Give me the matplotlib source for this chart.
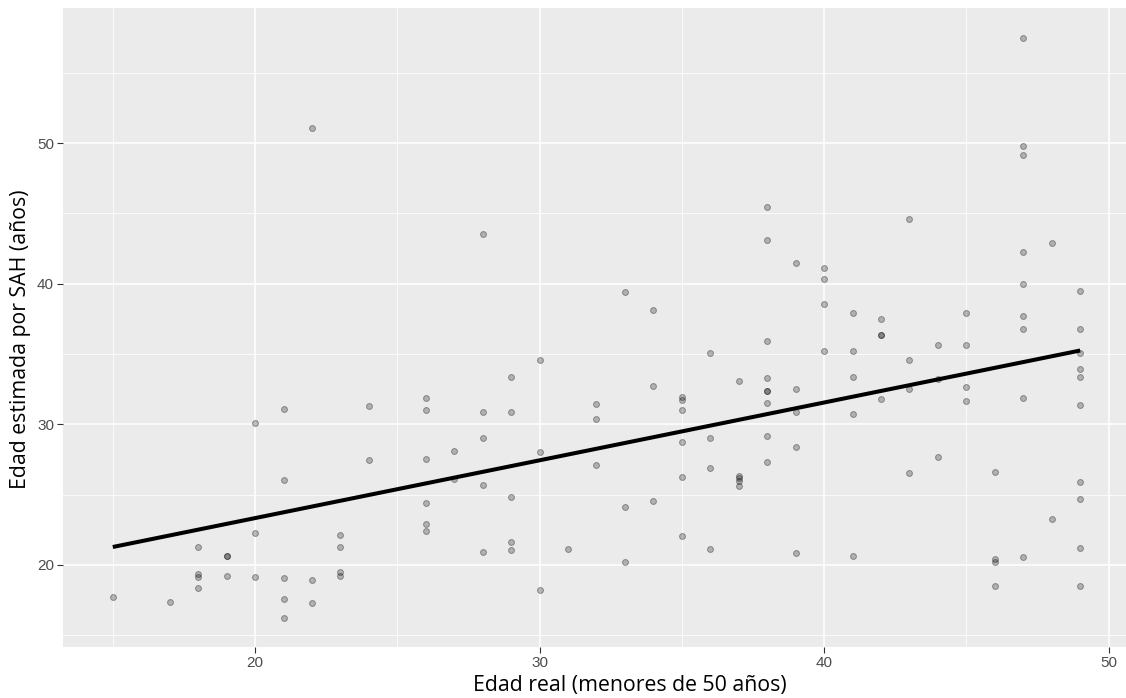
import matplotlib
matplotlib.use("Agg")
import matplotlib.pyplot as plt
import numpy as np

# Edad real (x) and edad estimada por SAH (y)
edad_real = [15, 17, 18, 18, 18, 18, 19, 19, 19, 20, 20, 20,
             21, 21, 21, 21, 21, 22, 22, 22, 23, 23, 23, 23, 24, 24,
             26, 26, 26, 26, 26, 26, 27, 27,
             28, 28, 28, 28, 28, 29, 29, 29, 29, 29,
             30, 30, 30, 31, 32, 32, 32, 33, 33, 33, 34, 34, 34,
             35, 35, 35, 35, 35, 35, 36, 36, 36, 36,
             37, 37, 37, 37, 37,
             38, 38, 38, 38, 38, 38, 38, 38, 38,
             39, 39, 39, 39, 39,
             40, 40, 40, 40, 41, 41, 41, 41, 41,
             42, 42, 42, 42, 43, 43, 43, 43, 44, 44, 44,
             45, 45, 45, 45, 46, 46, 46, 46,
             47, 47, 47, 47, 47, 47, 47, 47, 47,
             48, 48,
             49, 49, 49, 49, 49, 49, 49, 49, 49, 49]
edad_sah = [17.7, 17.4, 21.3, 19.35, 19.15, 18.4, 20.65, 20.65, 19.25, 30.1, 22.25, 19.15,
            31.1, 26.05, 19.1, 17.6, 16.2, 51.05, 18.9, 17.3, 22.15, 21.25, 19.5, 19.25, 31.3, 27.45,
            31.9, 31.0, 27.55, 24.4, 22.9, 22.45, 28.1, 26.1,
            43.5, 30.9, 29.05, 25.7, 20.95, 33.4, 30.9, 24.85, 21.6, 21.05,
            34.6, 28.0, 18.25, 21.15, 31.45, 30.35, 27.1, 39.4, 24.1, 20.2, 38.15, 32.75, 24.55,
            31.95, 31.75, 31.0, 28.75, 26.25, 22.05, 35.1, 29.05, 26.9, 21.15,
            33.05, 26.35, 26.2, 25.95, 25.6,
            45.45, 43.1, 35.9, 33.3, 32.35, 32.35, 31.55, 29.2, 27.3,
            41.45, 32.5, 30.9, 28.4, 20.85,
            41.15, 40.3, 38.55, 35.2, 37.95, 35.2, 33.4, 30.7, 20.65,
            37.5, 36.35, 36.35, 31.8, 44.6, 34.55, 32.5, 26.55, 35.65, 33.2, 27.65,
            37.95, 35.65, 32.65, 31.65, 26.6, 20.45, 20.2, 18.5,
            57.5, 49.8, 49.15, 42.25, 40.0, 37.7, 36.75, 31.85, 20.55,
            42.9, 23.25,
            39.45, 36.75, 35.1, 33.95, 33.4, 31.35, 25.9, 24.7, 21.2, 18.5]

# fitted line end points
fit_x = [15, 49]
fit_y = [21.28, 35.25]

x_ticks = [20, 30, 40, 50]
y_ticks = [20, 30, 40, 50]
x_label = "Edad real (menores de 50 años)"
y_label = "Edad estimada por SAH (años)"

W, H = 1126, 698
fig = plt.figure(figsize=(W / 100, H / 100), dpi=100)
ax = fig.add_axes([63 / W, (H - 647) / H, (1126 - 63) / W, (647 - 8) / H])
ax.set_facecolor("#EBEBEB")

ax.set_xlim(13.25, 50.61)
ax.set_ylim(14.17, 59.6)

ax.set_xticks(x_ticks)
ax.set_yticks(y_ticks)
ax.set_xticks([15, 25, 35, 45], minor=True)
ax.set_yticks([15, 25, 35, 45, 55], minor=True)
ax.grid(which="major", color="white", linewidth=1.1)
ax.grid(which="minor", color="white", linewidth=0.55)
ax.set_axisbelow(True)
for s in ax.spines.values():
    s.set_visible(False)

ax.tick_params(which="major", length=4, width=0.8, color="#333333",
               labelcolor="#4D4D4D", labelsize=11, pad=2.5)
ax.tick_params(which="minor", length=0)
for lab in ax.get_xticklabels() + ax.get_yticklabels():
    lab.set_fontfamily(["Liberation Sans", "DejaVu Sans"])

ax.scatter(edad_real, edad_sah, s=18, facecolor=(0, 0, 0, 0.25),
           edgecolor=(0, 0, 0, 0.35), linewidth=0.7, zorder=3)
ax.plot(fit_x, fit_y, color="black", linewidth=2.9, solid_capstyle="butt", zorder=4)

fig.text(630 / W, 1 - 691 / H, x_label, ha="center", va="baseline",
         fontsize=15.3, family=["Open Sans", "DejaVu Sans"], color="black")
fig.text(21 / W, 1 - 339 / H, y_label, ha="center", va="center", rotation=90,
         fontsize=15.3, family=["Open Sans", "DejaVu Sans"], color="black")

fig.savefig("out.png", dpi=100, facecolor="white")
